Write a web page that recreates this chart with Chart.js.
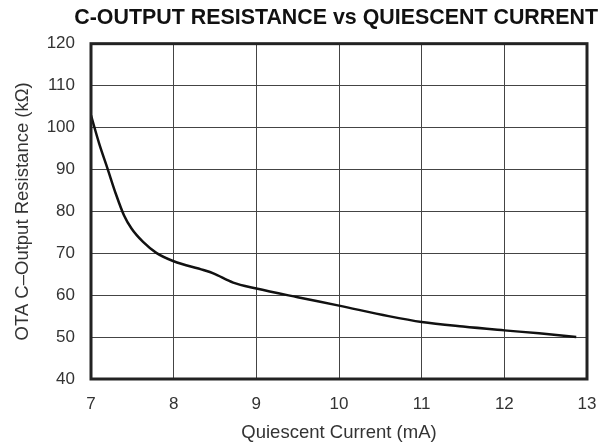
<!DOCTYPE html>
<html lang="en">
<head>
    <meta charset="UTF-8">
    <title>C-Output Resistance vs Quiescent Current</title>
    <script src="https://cdn.jsdelivr.net/npm/chart.js"></script>
    <style>
        html, body { margin: 0; padding: 0; background: #fff; }
        #wrap { width: 608px; height: 447px; }
    </style>
</head>
<body>
    <div id="wrap"><canvas id="resChart" width="608" height="447"></canvas></div>

    <script>
        // values
        const currentMa = [7.0, 7.1, 7.2, 7.3, 7.4, 7.49, 7.63, 7.79, 8.0, 8.36, 8.48, 8.72, 9.0, 9.5, 10.0, 10.6, 11.0, 11.5, 12.0, 12.42, 12.87];
        const resistanceK = [102.9, 96.1, 90.2, 84.2, 79.0, 75.9, 72.7, 70.1, 68.1, 66.0, 65.2, 63.0, 61.6, 59.5, 57.5, 55.0, 53.6, 52.5, 51.6, 50.9, 50.0];

        const xTicks = [7, 8, 9, 10, 11, 12, 13];
        const yTicks = [40, 50, 60, 70, 80, 90, 100, 110, 120];

        const points = currentMa.map((x, i) => ({ x: x, y: resistanceK[i] }));

        // heavy frame round the plot area
        const frame = {
            id: 'frame',
            afterDraw(chart) {
                const a = chart.chartArea;
                const ctx = chart.ctx;
                ctx.save();
                ctx.strokeStyle = '#222';
                ctx.lineWidth = 3;
                ctx.strokeRect(a.left, a.top, a.right - a.left, a.bottom - a.top);
                ctx.restore();
            }
        };

        Chart.defaults.font.family = '"Liberation Sans", Arial, sans-serif';

        new Chart(document.getElementById('resChart'), {
            type: 'line',
            data: {
                datasets: [{
                    data: points,
                    borderColor: '#111',
                    borderWidth: 2.5,
                    pointRadius: 0,
                    cubicInterpolationMode: 'monotone',
                    fill: false
                }]
            },
            options: {
                responsive: false,
                animation: false,
                layout: { padding: { right: 10 } },
                plugins: {
                    legend: { display: false },
                    tooltip: { enabled: false },
                    title: {
                        display: true,
                        align: 'end',
                        text: 'C-OUTPUT RESISTANCE vs QUIESCENT CURRENT',
                        color: '#111',
                        font: { size: 21.4, weight: 'bold' },
                        padding: { top: 5, bottom: 13 }
                    }
                },
                scales: {
                    x: {
                        type: 'linear',
                        min: 7,
                        max: 13,
                        afterBuildTicks: s => { s.ticks = xTicks.map(v => ({ value: v })); },
                        afterFit: s => { s.height = 68; s.paddingRight = 21; },
                        grid: { color: '#444', lineWidth: 1, drawTicks: false },
                        border: { display: false },
                        ticks: { color: '#333', font: { size: 17 }, padding: 15, maxRotation: 0 },
                        title: {
                            display: true,
                            text: 'Quiescent Current (mA)',
                            color: '#333',
                            font: { size: 18.5 },
                            padding: { top: 2, bottom: 3 }
                        }
                    },
                    y: {
                        min: 40,
                        max: 120,
                        afterBuildTicks: s => { s.ticks = yTicks.map(v => ({ value: v })); },
                        afterFit: s => { s.width = 91; },
                        grid: { color: '#444', lineWidth: 1, drawTicks: false },
                        border: { display: false },
                        ticks: { color: '#333', font: { size: 17 }, padding: 16 },
                        title: {
                            display: true,
                            text: 'OTA C\u2013Output Resistance (k\u03A9)',
                            color: '#333',
                            font: { size: 18.5 },
                            padding: { top: 12, bottom: 2 }
                        }
                    }
                }
            },
            plugins: [frame]
        });
    </script>
</body>
</html>
